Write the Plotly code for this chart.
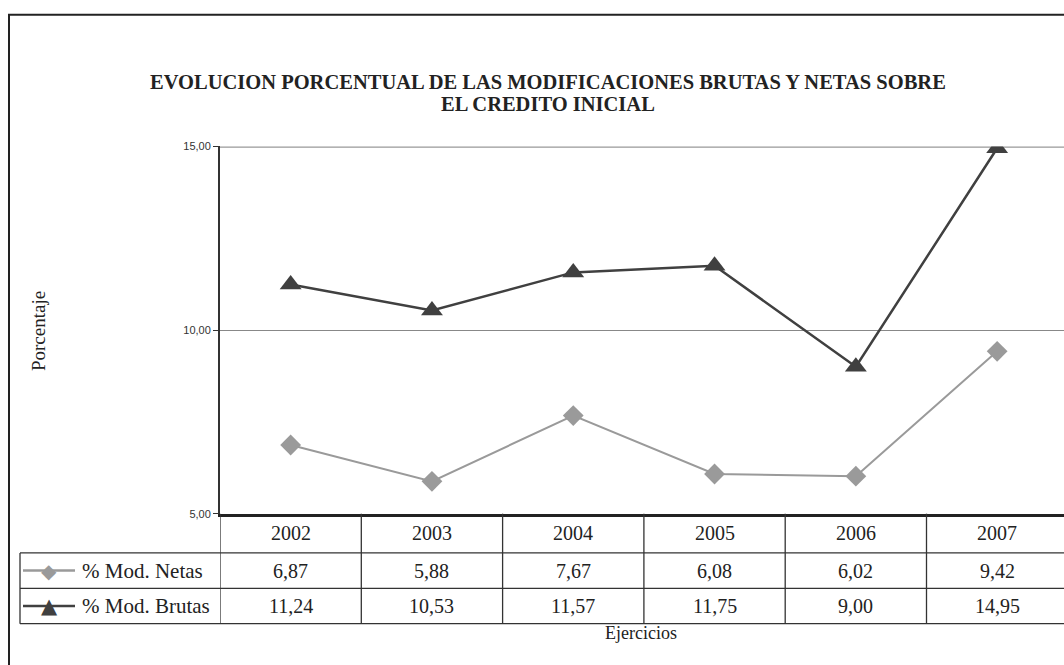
import plotly.graph_objects as go

years = ["2002", "2003", "2004", "2005", "2006", "2007"]
netas = [6.87, 5.88, 7.67, 6.08, 6.02, 9.42]
brutas = [11.24, 10.53, 11.57, 11.75, 9.00, 14.95]
series_names = ["% Mod. Netas", "% Mod. Brutas"]
title_lines = ["EVOLUCION PORCENTUAL DE LAS MODIFICACIONES BRUTAS Y NETAS SOBRE", "EL CREDITO INICIAL"]

W, H = 1064, 665
def px(x):
    return x / W
def py(y):
    return (H - y) / H

NETAS_C = "#9a9a9a"
BRUTAS_C = "#404040"
SERIF = "Liberation Serif, DejaVu Serif, serif"
SANS = "Liberation Sans, Arial, sans-serif"
TXT = "#222"

fig = go.Figure()
fig.add_trace(go.Scatter(x=years, y=netas, mode="lines+markers", name=series_names[0],
                         line=dict(color=NETAS_C, width=2),
                         marker=dict(symbol="diamond", size=16, color=NETAS_C)))
fig.add_trace(go.Scatter(x=years, y=brutas, mode="lines+markers", name=series_names[1],
                         line=dict(color=BRUTAS_C, width=2.5),
                         marker=dict(symbol="triangle-up", size=19, color=BRUTAS_C)))

ncat = len(years)
col_w = 141.3
x_right = -0.5 + (W - 220) / col_w

plot_top, plot_bot = 143, 517
row1, row2, row3 = 557, 593, 629

shapes = []
shapes.append(dict(type="rect", xref="paper", yref="paper", x0=px(9), x1=1.2, y0=-0.2, y1=py(9),
                   line=dict(color="#222", width=2), layer="below"))
shapes.append(dict(type="line", xref="x", yref="y", x0=-0.5, x1=x_right + 1, y0=15, y1=15,
                   line=dict(color="#999", width=2.5), layer="between"))
for yy in (row1, row2, row3):
    shapes.append(dict(type="line", xref="paper", yref="paper", x0=px(20), x1=1.2, y0=py(yy), y1=py(yy),
                       line=dict(color="#333", width=1.3)))
shapes.append(dict(type="line", xref="paper", yref="paper", x0=px(20), x1=px(20), y0=py(row1), y1=py(row3),
                   line=dict(color="#333", width=1.3)))
for i in range(ncat + 1):
    shapes.append(dict(type="line", xref="x", yref="paper", x0=i - 0.5, x1=i - 0.5, y0=py(plot_bot), y1=py(row3),
                       line=dict(color="#333", width=1.3)))
for yy, col in ((575, NETAS_C), (611, BRUTAS_C)):
    shapes.append(dict(type="line", xref="paper", yref="paper", x0=px(23), x1=px(75), y0=py(yy), y1=py(yy),
                       line=dict(color=col, width=2.5)))

def ann(text, x, y, size, xref="paper", family=SERIF, color=TXT, xanchor="center", **kw):
    return dict(text=text, xref=xref, yref="paper", x=x, y=y, showarrow=False,
                xanchor=xanchor, yanchor="middle", font=dict(family=family, size=size, color=color), **kw)

annotations = []
annotations.append(ann("<b>" + title_lines[0] + "</b>", px(548), py(77), 20.5))
annotations.append(ann("<b>" + title_lines[1] + "</b>", px(548), py(100), 20.5))
annotations.append(ann("Porcentaje", px(38), py(331), 19, textangle=-90))
annotations.append(ann("Ejercicios", px(641), py(639), 18))
for i, yv in enumerate(years):
    annotations.append(ann(yv, i, py(537), 20, xref="x"))
    annotations.append(ann(f"{netas[i]:.2f}".replace(".", ","), i, py(575), 20, xref="x"))
    annotations.append(ann(f"{brutas[i]:.2f}".replace(".", ","), i, py(611), 20, xref="x"))
for yy, name, sym, col, sz in ((575, series_names[0], "\u25c6", NETAS_C, 20), (611, series_names[1], "\u25b2", BRUTAS_C, 21)):
    annotations.append(ann(sym, px(49), py(yy), sz, family="DejaVu Sans", color=col))
    annotations.append(ann(name, px(80), py(yy), 21, xanchor="left"))

fig.update_layout(
    width=W, height=H, autosize=False,
    margin=dict(l=0, r=0, t=0, b=0),
    paper_bgcolor="white", plot_bgcolor="white",
    showlegend=False,
    separators=",.",
    shapes=shapes, annotations=annotations,
    xaxis=dict(domain=[px(220), 1], type="category", range=[-0.5, x_right], showticklabels=False,
               showgrid=False, zeroline=False, showline=True, linecolor="#222", linewidth=2.5, ticks=""),
    yaxis=dict(domain=[py(plot_bot), py(plot_top)], range=[5, 15], dtick=5, tickformat=".2f",
               showgrid=True, gridcolor="#888", gridwidth=1, zeroline=False,
               showline=True, linecolor="#333", linewidth=2, ticks="outside", ticklen=5, tickcolor="#333",
               tickfont=dict(family=SANS, size=11, color="#333")),
)

fig.write_html("out.html", config={"displayModeBar": False},
               post_script="document.body.style.margin='0';")
